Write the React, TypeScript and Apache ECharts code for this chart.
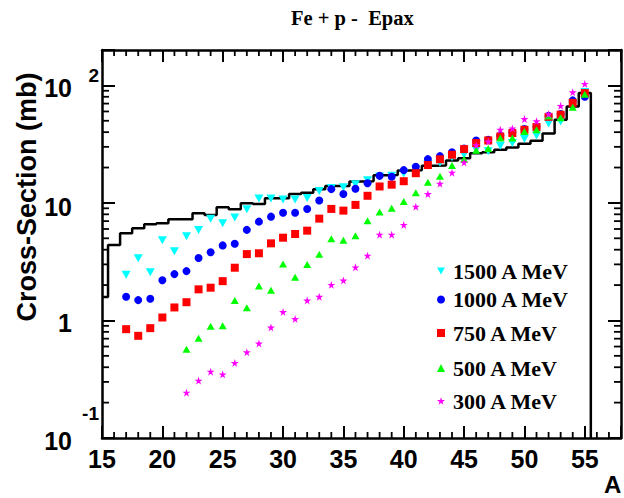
import React, { useEffect, useRef } from "react";
import * as echarts from "echarts";

// ---------- data ----------
const histMass = [15,16,17,18,19,20,21,22,23,24,25,26,27,28,29,30,31,32,33,34,35,36,37,38,39,40,41,42,43,44,45,46,47,48,49,50,51,52,53,54,55];
const histEpax = [1.58,4.38,5.52,6.09,6.58,6.71,7.26,7.26,8.17,7.9,9.19,8.84,9.94,9.8,10.96,10.96,11.9,12.2,13.1,13.96,13.96,15.2,15.3,17.2,17.3,18.9,19.0,20.7,20.8,23.0,24.0,26.5,27.0,28.3,29.6,31.9,33.8,39.0,51.0,66.0,86.0];

const massA = [17,18,19,20,21,22,23,24,25,26,27,28,29,30,31,32,33,34,35,36,37,38,39,40,41,42,43,44,45,46,47,48,49,50,51,52,53,54,55];
const xs1500 = [2.45,3.38,2.57,4.82,3.88,5.2,5.89,7.33,6.7,7.52,8.84,10.9,10.9,10.7,10.7,11.0,12.6,13.4,13.6,14.4,15.6,16.8,17.0,17.8,19.3,21.3,22.0,24.5,25.7,28.3,27.5,30.6,32.3,35.1,37.5,47.5,49.3,67.0,88.0];
const xs1000 = [1.59,1.49,1.53,2.2,2.48,2.63,3.4,3.8,4.35,4.5,5.9,6.93,7.64,8.26,8.26,8.89,10.5,13.1,11.9,13.2,14.7,17.0,16.7,19.0,20.3,23.6,25.0,27.0,29.0,34.0,34.5,37.5,40.0,42.5,44.5,55.0,57.0,74.5,80.0];
const xs750 = [0.843,0.74,0.86,1.06,1.29,1.43,1.84,1.9,2.16,2.81,3.67,3.73,4.53,5.06,5.44,5.81,7.35,8.89,8.6,9.62,11.5,13.8,14.3,15.3,17.9,21.0,23.5,25.7,28.7,32.3,34.0,36.7,39.3,41.9,44.2,54.0,56.3,71.0,86.0];

const massB = [22,23,24,25,26,27,28,29,30,31,32,33,34,35,36,37,38,39,40,41,42,43,44,45,46,47,48,49,50,51,52,53,54,55];
const xs500 = [0.569,0.706,0.894,0.9,1.48,1.28,1.96,1.81,3.02,2.33,3.0,3.65,4.96,4.81,5.26,7.06,8.38,9.01,10.3,12.2,15.0,16.9,20.8,23.5,28.0,29.0,35.6,35.6,40.5,41.9,55.0,53.0,65.0,84.0];
const xs300 = [0.243,0.308,0.367,0.348,0.435,0.537,0.637,0.871,1.18,1.03,1.48,1.59,2.01,2.19,2.83,3.56,5.37,5.37,6.5,9.3,11.9,14.6,18.1,22.1,31.0,33.3,41.9,43.0,51.7,49.5,57.0,67.0,87.5,103.0];

const seriesNames = ["1500 A MeV", "1000 A MeV", "750 A MeV", "500 A MeV", "300 A MeV"];
const xTickLabels = [15, 20, 25, 30, 35, 40, 45, 50, 55];

// ---------- style constants ----------
const SANS = "'Liberation Sans', Arial, sans-serif";
const SERIF = "'Liberation Serif', 'Times New Roman', serif";
const X_MIN = 15, X_MAX = 58, Y_MIN = 0.1, Y_MAX = 200;
const STAR = "path://M50 0 L61.17 34.63 L97.55 34.55 L68.07 55.87 L79.39 90.45 L50 69 L20.61 90.45 L31.93 55.87 L2.45 34.55 L38.83 34.63 Z";
const DOWN_TRI = "path://M0 0 L10 0 L5 9 Z";

const near = (a: number, b: number) => Math.abs(Math.log10(a) - Math.log10(b)) < 1e-6;

function histPath(): number[][] {
  const pts: number[][] = [];
  histMass.forEach((a, i) => {
    const v = histEpax[i];
    pts.push([Math.max(a - 0.5, X_MIN), v]);
    pts.push([a + 0.5, v]);
  });
  const last = histMass[histMass.length - 1];
  pts.push([last + 0.5, Y_MIN]);
  return pts;
}

function xMinor(): number[][] {
  const out: number[][] = [];
  for (let v = X_MIN; v < X_MAX; v++) if (v % 5 !== 0) out.push([v, 1]);
  return out;
}
function yMinor(): number[][] {
  const out: number[][] = [];
  for (const dec of [0.1, 1, 10, 100]) {
    for (let m = 2; m <= 9; m++) {
      const v = m * dec;
      if (v < Y_MAX) out.push([X_MIN, v]);
    }
  }
  return out;
}

const tickStyle = { stroke: "#000", lineWidth: 1.8 };

export default function App() {
  const ref = useRef<HTMLDivElement>(null);
  useEffect(() => {
    if (!ref.current) return;
    const chart = echarts.init(ref.current, null, { renderer: "svg" });
    const scatter = (name: string, xsA: number[], ys: number[], color: string, symbol: string, size: any) => ({
      name,
      type: "scatter",
      data: xsA.map((a, i) => [a, ys[i]]),
      symbol,
      symbolSize: size,
      itemStyle: { color, opacity: 1 },
      z: 5,
    });
    const legendTops = [260, 288.5, 322, 357, 390];
    const option: any = {
      animation: false,
      backgroundColor: "#fff",
      title: {
        text: "Fe + p -  Epax",
        left: 291,
        top: 7,
        padding: 0,
        textStyle: { fontFamily: SERIF, fontWeight: "bold", fontSize: 20.5, color: "#000" },
      },
      grid: { left: 102, right: -3, top: 50, bottom: 60, containLabel: false },
      legend: seriesNames.map((n, i) => ({
        data: [n],
        left: 437,
        top: legendTops[i],
        padding: 0,
        itemWidth: 8,
        itemHeight: 8,
        selectedMode: false,
        textStyle: { fontFamily: SERIF, fontWeight: "bold", fontSize: 22, color: "#000", padding: [0, 0, 0, 3] },
      })),
      xAxis: [
        {
          type: "value", min: X_MIN, max: X_MAX, interval: 5, position: "bottom",
          axisLine: { show: true, onZero: false, lineStyle: { color: "#000", width: 2.5 } },
          axisTick: { show: true, inside: true, length: 12, lineStyle: { color: "#000", width: 2 } },
          splitLine: { show: false },
          axisLabel: {
            margin: 8, color: "#000", fontFamily: SANS, fontWeight: "bold", fontSize: 25,
            formatter: (v: number) => (xTickLabels.includes(v) ? String(v) : ""),
          },
        },
        {
          type: "value", min: X_MIN, max: X_MAX, interval: 5, position: "top",
          axisLine: { show: true, onZero: false, lineStyle: { color: "#000", width: 2.5 } },
          axisTick: { show: true, inside: true, length: 12, lineStyle: { color: "#000", width: 2 } },
          splitLine: { show: false },
          axisLabel: { show: false },
        },
      ],
      yAxis: [
        {
          type: "log", min: Y_MIN, max: Y_MAX, position: "left",
          axisLine: { show: true, onZero: false, lineStyle: { color: "#000", width: 2.5 } },
          axisTick: { show: true, inside: true, length: 13, lineStyle: { color: "#000", width: 2 } },
          splitLine: { show: false },
          axisLabel: {
            margin: 3,
            formatter: (v: number) => {
              if (near(v, 100)) return "{s2|2}\n{b2|10}{e|}";
              if (near(v, 10)) return "{z10|}\n{b10|10}{e|}";
              if (near(v, 1)) return "{z1|}\n{b1|1}{e|}";
              if (near(v, 0.1)) return "{s1|-1}\n{b01|10}{e|}";
              return "";
            },
            rich: {
              s2: { fontFamily: SANS, fontWeight: "bold", fontSize: 19, color: "#000", lineHeight: 4.6 },
              b2: { fontFamily: SANS, fontWeight: "bold", fontSize: 25, color: "#000", lineHeight: 20 },
              z10: { lineHeight: 8 },
              b10: { fontFamily: SANS, fontWeight: "bold", fontSize: 25, color: "#000", lineHeight: 25 },
              z1: { lineHeight: 6 },
              b1: { fontFamily: SANS, fontWeight: "bold", fontSize: 25, color: "#000", lineHeight: 25 },
              s1: { fontFamily: SANS, fontWeight: "bold", fontSize: 19, color: "#000", lineHeight: 6 },
              b01: { fontFamily: SANS, fontWeight: "bold", fontSize: 25, color: "#000", lineHeight: 50 },
              e: { width: 27 },
            },
          },
        },
        {
          type: "log", min: Y_MIN, max: Y_MAX, position: "right",
          axisLine: { show: true, onZero: false, lineStyle: { color: "#000", width: 2.5 } },
          axisTick: { show: true, inside: true, length: 13, lineStyle: { color: "#000", width: 2 } },
          splitLine: { show: false },
          axisLabel: { show: false },
        },
      ],
      graphic: [
        {
          type: "text", x: 27, y: 197, rotation: Math.PI / 2,
          style: { text: "Cross-Section (mb)", fontFamily: SANS, fontWeight: "bold", fontSize: 27, fill: "#000", align: "center", verticalAlign: "middle" },
        },
        {
          type: "text", x: 604, y: 484,
          style: { text: "A", fontFamily: SANS, fontWeight: "bold", fontSize: 24, fill: "#000", align: "left", verticalAlign: "middle" },
        },
      ],
      series: [
        {
          name: "Epax", type: "line", data: histPath(), showSymbol: false, symbol: "none",
          lineStyle: { color: "#000", width: 2.5 }, z: 3, clip: true,
        },
        {
          name: "xMinorTicks", type: "custom", data: xMinor(), encode: { x: 0, y: 1 }, z: 4, silent: true,
          renderItem: (params: any, api: any) => {
            const v = api.value(0);
            const b = api.coord([v, Y_MIN]);
            const t = api.coord([v, Y_MAX]);
            return {
              type: "group",
              children: [
                { type: "line", shape: { x1: b[0], y1: b[1], x2: b[0], y2: b[1] - 6 }, style: tickStyle },
                { type: "line", shape: { x1: t[0], y1: t[1], x2: t[0], y2: t[1] + 6 }, style: tickStyle },
              ],
            };
          },
        },
        {
          name: "yMinorTicks", type: "custom", data: yMinor(), encode: { x: 0, y: 1 }, z: 4, silent: true,
          renderItem: (params: any, api: any) => {
            const v = api.value(1);
            const l = api.coord([X_MIN, v]);
            const r = api.coord([X_MAX, v]);
            return {
              type: "group",
              children: [
                { type: "line", shape: { x1: l[0], y1: l[1], x2: l[0] + 7, y2: l[1] }, style: tickStyle },
                { type: "line", shape: { x1: r[0], y1: r[1], x2: r[0] - 7, y2: r[1] }, style: tickStyle },
              ],
            };
          },
        },
        scatter(seriesNames[0], massA, xs1500, "#00ffff", DOWN_TRI, [9, 8]),
        scatter(seriesNames[1], massA, xs1000, "#0000ff", "circle", 8),
        scatter(seriesNames[2], massA, xs750, "#ff0000", "rect", 8),
        scatter(seriesNames[3], massB, xs500, "#00ff00", "triangle", [8, 7]),
        scatter(seriesNames[4], massB, xs300, "#ff00ff", STAR, 8),
      ],
    };
    chart.setOption(option);
    return () => chart.dispose();
  }, []);
  return (
    <div
      ref={ref}
      style={{ position: "fixed", left: 0, top: 0, width: 624, height: 498, background: "#fff" }}
    />
  );
}
